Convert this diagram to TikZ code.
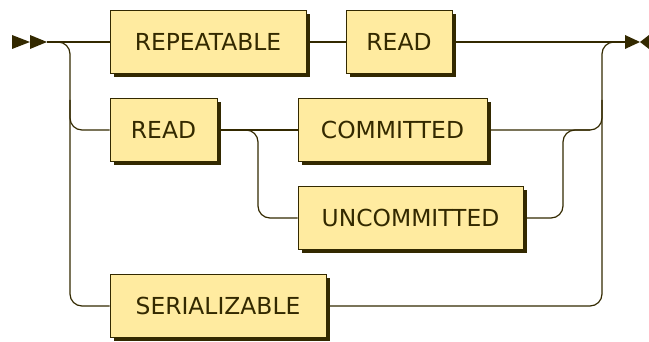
\documentclass[tikz,border=0pt]{standalone}
\usepackage{fontspec}
\setmainfont{DejaVu Sans}
\usetikzlibrary{shadows}
\definecolor{rrline}{HTML}{332900}
\definecolor{rrfill}{HTML}{FFEBA0}
\begin{document}
\begin{tikzpicture}[x=.5pt,y=-.5pt,
  term/.style={draw=rrline,fill=rrfill,line width=.5pt,minimum height=31.5pt,inner sep=0pt,
    text=rrline,font=\fontsize{11.7}{14}\selectfont,
    general shadow={fill=rrline,shadow xshift=1.75pt,shadow yshift=-1.75pt}},
  track/.style={draw=rrline,line width=.6pt,rounded corners=6pt}]
  \useasboundingbox (0,0) rectangle (649,342);
  \node[term,minimum width=98pt] (rep) at (208,42) {REPEATABLE};
  \node[term,minimum width=53pt] (rdA) at (399,42) {READ};
  \node[term,minimum width=53.5pt] (rdB) at (163.5,130) {READ};
  \node[term,minimum width=94.5pt] (com) at (392.5,130) {COMMITTED};
  \node[term,minimum width=112.5pt] (unc) at (410.5,218) {UNCOMMITTED};
  \node[term,minimum width=108pt] (ser) at (218,306) {SERIALIZABLE};
  \coordinate (in) at (47,42);
  \coordinate (out) at (625,42);
  \coordinate (lbot) at (70,306);
  \coordinate (lmid) at (70,100);
  \coordinate (ibot) at (258,218);
  \coordinate (jtop) at (563,130);
  \coordinate (jend) at (590,130);
  \coordinate (rtop) at (602,42);
  \coordinate (rmid) at (602,100);
  \draw[track] (in) -- (rep.west);
  \draw[track] (rep.east) -- (rdA.west);
  \draw[track] (rdA.east) -- (out);
  \draw[track] (in) -| (lbot) -- (ser.west);
  \draw[track] (lmid) |- (rdB.west);
  \draw[track] (rdB.east) -- (com.west);
  \draw[track] (rdB.east) -| (ibot) -- (unc.west);
  \draw[track] (unc.east) -| (jtop) -- (jend);
  \draw[track] (com.east) -| (rtop) -- (out);
  \draw[track] (ser.east) -| (rmid);
  \fill[rrline] (12,35) -- (30,42) -- (12,49) -- cycle;
  \fill[rrline] (30,35) -- (47,42) -- (30,49) -- cycle;
  \fill[rrline] (625,35) -- (640,42) -- (625,49) -- cycle;
  \fill[rrline] (649,35) -- (640,42) -- (649,49) -- cycle;
\end{tikzpicture}
\end{document}
